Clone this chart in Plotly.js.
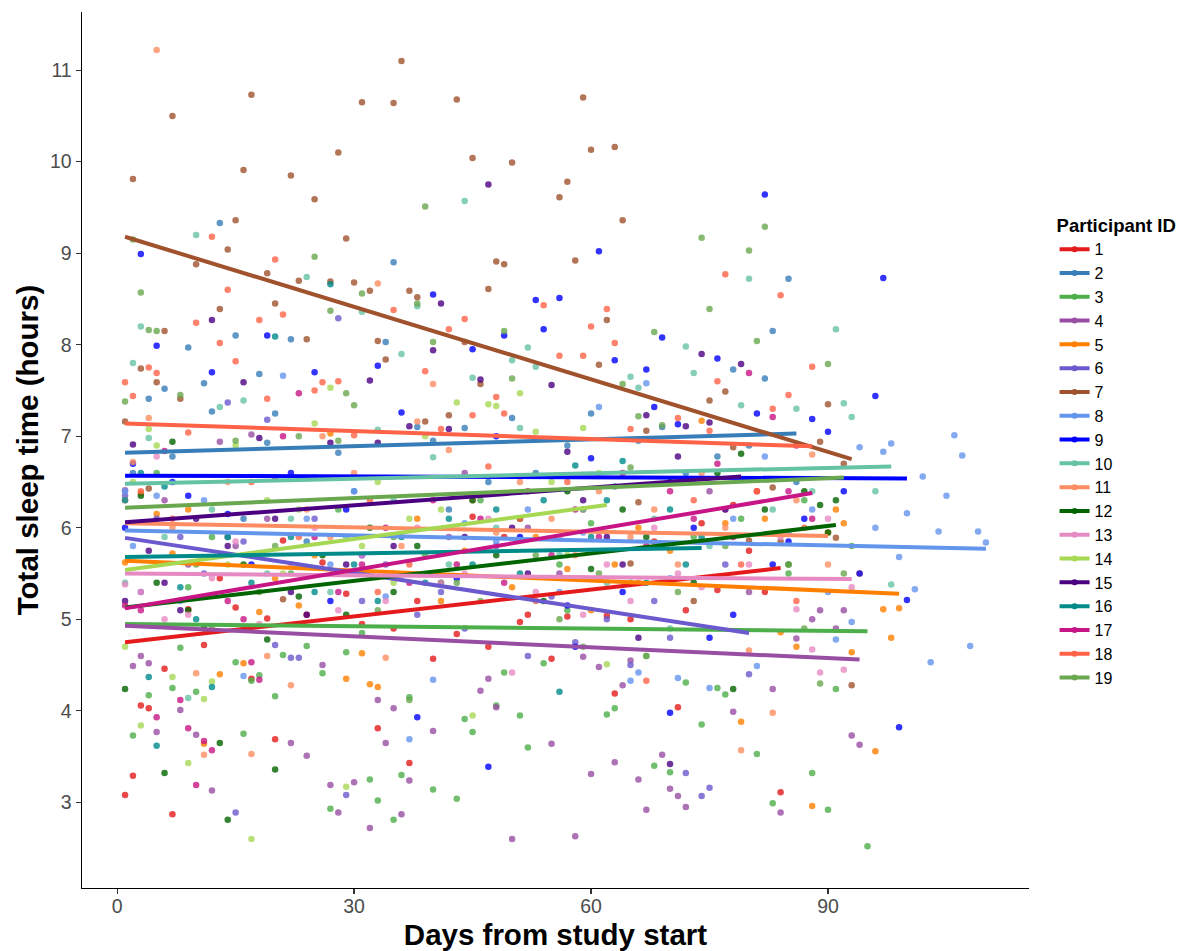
<!DOCTYPE html>
<html>
<head>
<meta charset="utf-8">
<script src="https://cdn.plot.ly/plotly-3.0.1.min.js"></script>
<style>html,body{margin:0;padding:0;background:#fff}#chart{width:1193px;height:951px}</style>
</head>
<body>
<div id="chart"></div>
<script>
const participants = ["1","2","3","4","5","6","7","8","9","10","11","12","13","14","15","16","17","18","19"];
const colors = ["#E41A1C","#377EB8","#4DAF4A","#984EA3","#FF7F00","#6A5ACD","#A0522D","#6495ED","#0000FF","#66C2A5","#FC8D62","#006400","#E78AC3","#A6D854","#4B0082","#008B8B","#C71585","#FF6347","#6AA84F"];

// regression line endpoints
const fitStartX = [1,1,1,1,1,1,1,1,1,1,1,1,1,1,1,1,1,1,1];
const fitEndX   = [84,86,95,94,99,80,93,110,100,98,90,91,93,62,79,74,88,88,92];
const fitStartY = [4.75,6.82,4.95,4.93,5.64,5.89,9.18,5.97,6.57,6.48,6.05,5.13,5.50,5.54,6.06,5.68,5.12,7.14,6.22];
const fitEndY   = [5.56,7.03,4.87,4.56,5.28,4.85,6.75,5.77,6.54,6.67,5.91,6.03,5.44,6.25,6.56,5.78,6.38,6.89,6.55];

// observations per participant (day, total sleep hours)
const p1x = [1,2,3,4,6,7,9,11,13,15,17,19,20,21,24,26,29,31,33,35,37,38,40,43,45,47,49,51,52,55,57,59,62,63,65,68,71,72,74,76,78,80,81,82,84];
const p1y = [3.08,3.29,4.06,4.03,4.46,2.87,5.11,4.72,5.45,5.13,4.35,5.01,3.69,5.86,5.05,5.62,5.28,4.95,3.81,4.9,3.43,5.2,4.57,4.84,6.12,4.7,5.9,4.97,5.05,4.57,5.03,6.2,5.04,4.19,5.0,5.85,4.04,5.1,6.05,5.32,6.25,5.75,6.4,5.3,3.11];
const p2x = [2,4,6,7,9,11,12,13,15,16,18,19,20,22,24,25,28,30,34,35,38,40,42,44,47,50,53,57,60,63,66,69,72,76,78,80,82,83,85,86];
const p2y = [6.6,7.41,7.52,6.78,7.97,7.58,7.27,9.33,8.10,6.1,7.68,6.93,7.25,8.06,5.85,6.55,6.82,6.4,8.03,8.90,7.10,6.95,6.2,7.09,6.5,7.2,6.6,6.9,7.25,6.45,6.95,7.1,6.6,6.78,7.73,6.9,7.63,8.15,8.72,6.5];
const p3x = [2,4,5,7,8,9,10,12,15,16,17,18,20,21,22,24,26,27,28,29,31,32,33,35,36,37,39,40,43,44,45,46,48,49,51,52,54,56,57,60,62,63,65,67,68,70,72,73,74,76,77,79,81,83,85,87,88,90,91,93,95];
const p3y = [3.73,4.17,6.6,4.25,4.69,5.35,4.21,5.9,4.53,3.75,4.33,4.39,4.16,4.61,5.5,4.71,4.41,2.93,6.2,4.64,4.85,3.25,3.02,2.81,3.30,4.15,5.7,3.14,3.04,3.91,3.77,6.3,4.06,4.42,3.95,3.60,4.52,5.6,5.1,6.05,3.96,4.03,5.4,4.6,3.40,3.33,4.31,5.9,3.85,4.25,4.18,6.1,3.53,2.99,5.5,6.3,3.32,2.92,4.24,5.8,2.52];
const p4x = [1,2,3,4,5,6,8,9,10,12,13,15,17,19,20,22,24,26,27,28,30,32,33,34,35,36,37,40,42,44,46,47,48,50,52,55,56,58,59,60,61,63,64,65,66,67,69,70,71,72,75,78,80,83,84,86,88,89,91,92,93,94];
const p4y = [6.41,4.49,4.60,4.52,3.77,6.3,4.01,5.6,3.74,3.13,6.94,5.8,7.02,6.1,6.55,3.65,3.51,4.50,3.19,2.89,3.22,2.72,4.12,3.65,4.03,2.87,3.24,3.78,5.9,6.6,4.22,4.35,4.04,2.60,6.0,3.64,5.5,2.63,4.59,3.31,4.48,3.44,4.28,4.55,3.25,2.92,3.52,3.15,3.07,2.95,6.4,3.99,5.3,4.24,2.89,4.79,5.0,5.1,4.90,5.1,3.73,3.63];
const p5x = [1,3,5,7,9,11,13,14,16,18,20,23,25,27,29,31,32,33,35,38,41,44,50,53,57,60,63,66,70,74,77,79,82,84,86,88,90,91,92,93,94,96,97,98,99];
const p5y = [5.62,6.38,6.15,5.72,6.2,3.64,4.4,5.9,4.52,5.08,5.45,5.15,5.7,7.03,4.35,4.63,4.29,4.26,5.5,6.1,5.2,5.75,5.35,5.9,5.55,5.1,5.6,6.0,5.75,7.17,6.05,3.88,6.1,4.86,4.70,2.96,5.95,6.2,6.05,4.64,5.5,3.56,5.11,4.80,5.12];
const p6x = [1,3,5,8,11,14,15,16,19,20,22,23,25,28,29,31,34,38,41,44,48,52,55,58,62,65,68,70,72,74,75,77,80];
const p6y = [6.35,5.3,6.1,5.9,5.5,7.37,2.89,5.85,7.18,4.72,4.58,4.58,6.1,8.29,3.08,5.2,5.6,5.05,5.3,4.9,5.8,4.6,5.25,4.75,5.0,4.5,5.2,4.8,3.32,3.07,3.16,5.6,4.4];
const p7x = [1,2,3,4,5,6,7,8,10,13,14,15,16,17,19,20,21,22,23,24,25,27,28,29,30,31,32,33,34,35,36,37,38,39,42,43,44,45,46,47,48,49,50,56,57,58,59,60,61,62,63,64,65,66,67,73,75,77,78,80,83,84,89,90,91,92,93];
const p7y = [7.16,9.81,7.74,6.43,7.59,8.15,10.5,7.41,8.88,8.39,9.04,9.36,9.91,10.73,8.78,8.45,5.22,9.85,8.70,8.06,9.59,8.69,10.10,9.16,8.68,10.65,8.59,8.04,7.84,10.64,11.10,8.59,8.52,7.16,7.23,10.68,8.03,10.04,7.57,8.61,8.91,8.88,9.99,9.61,9.78,8.92,10.70,10.13,7.78,8.27,10.16,9.36,5.61,6.28,7.06,5.20,7.39,7.49,6.88,5.86,6.44,5.85,6.94,7.35,5.89,6.70,4.28];
const p8x = [1,2,5,8,11,14,16,21,24,27,30,34,37,40,44,48,52,56,59,61,65,66,67,70,71,75,78,81,82,85,88,90,91,93,94,96,97,98,99,100,101,102,103,104,105,106,107,108,109,110];
const p8y = [6.4,5.8,6.35,5.2,6.3,5.9,4.38,7.66,6.1,5.6,6.4,5.25,3.69,4.34,6.05,5.85,6.2,5.3,5.95,7.32,4.33,4.42,7.58,5.45,4.36,4.25,6.1,4.49,6.78,5.95,6.2,5.3,4.78,4.97,6.88,6.0,6.83,6.92,5.68,6.16,5.33,6.56,4.53,5.96,6.35,7.01,6.79,4.71,5.96,5.84];
const p9x = [1,2,3,5,7,9,12,14,17,19,22,25,27,29,31,33,36,38,40,43,45,47,48,49,51,53,54,56,57,58,60,61,63,64,67,68,69,70,71,73,75,76,78,81,82,83,85,87,88,90,92,94,96,97,99,100];
const p9y = [6.0,6.7,8.99,7.99,6.5,6.35,7.70,6.15,5.6,8.10,6.6,7.70,5.2,6.2,5.7,7.77,7.26,3.93,8.55,5.45,7.95,3.39,7.0,8.10,5.9,8.49,8.17,8.51,5.15,4.7,6.76,9.02,7.83,5.3,7.73,7.32,8.08,3.98,7.13,6.0,4.8,7.85,5.05,7.25,9.64,5.6,5.85,6.1,7.19,7.05,6.4,5.5,7.44,8.73,3.82,5.21];
const p10x = [1,2,3,4,6,9,10,12,13,16,19,22,24,27,29,31,33,35,36,38,40,42,44,45,48,50,51,52,53,56,59,62,65,66,68,70,72,73,75,79,80,83,86,88,91,92,93,96,98];
const p10y = [5.4,7.80,8.20,6.98,5.9,4.14,9.20,6.2,7.32,7.39,5.5,6.1,8.74,5.3,5.9,8.36,7.07,6.3,7.90,8.42,6.77,5.6,9.57,7.64,6.0,7.83,7.09,7.97,7.76,5.7,6.2,5.4,7.65,7.53,6.1,4.9,7.98,7.69,5.8,7.34,8.72,6.2,7.30,6.4,8.17,7.36,7.21,6.40,5.38];
const p11x = [1,2,4,5,7,10,11,14,17,19,22,24,26,27,30,33,34,36,38,40,42,45,48,51,55,58,61,65,68,71,74,77,79,80,83,86,88,90];
const p11y = [6.3,6.72,7.2,11.22,6.0,4.41,3.52,6.5,3.53,4.6,4.28,6.2,7.0,5.9,6.6,8.67,4.58,5.8,7.16,7.57,6.85,6.3,5.95,6.5,6.1,5.7,6.4,5.9,6.2,5.6,6.6,6.0,3.57,4.66,3.98,6.3,6.8,5.6];
const p12x = [1,3,5,6,7,9,11,13,14,16,19,20,23,26,29,32,35,38,41,45,48,51,54,57,60,64,67,70,73,76,78,79,82,85,87,89,90,91];
const p12y = [4.24,6.35,5.4,3.32,6.94,5.1,4.9,3.65,2.81,5.6,4.78,3.36,5.25,5.7,5.05,6.0,5.3,5.8,5.4,6.3,5.7,6.1,5.2,6.4,5.55,6.2,5.9,6.5,5.4,6.6,4.24,6.81,6.2,5.6,6.4,6.25,5.95,6.3];
const p13x = [1,3,5,6,9,12,15,18,22,25,28,31,34,38,41,44,47,50,53,56,59,62,65,68,71,74,77,80,84,86,88,89,90,92,93];
const p13y = [5.38,5.3,6.78,5.0,5.05,5.45,5.85,4.95,5.6,6.0,5.1,5.7,5.2,6.0,5.4,5.5,6.1,4.42,5.3,5.9,5.05,5.6,5.2,6.0,5.5,5.35,6.2,5.6,5.9,5.11,4.67,4.42,6.1,4.45,5.35];
const p14x = [1,2,3,4,5,7,9,11,12,14,15,17,19,21,23,25,27,29,31,33,35,37,39,41,43,45,47,48,51,53,55,57,59,61,62];
const p14y = [4.7,6.5,3.84,7.08,6.9,4.37,3.43,4.13,4.32,5.6,6.9,2.60,6.3,5.5,6.2,7.14,7.53,3.17,5.8,6.5,5.4,6.1,7.0,6.2,7.37,3.95,7.35,7.33,7.47,7.05,6.5,5.7,7.09,6.6,4.51];
const p15x = [1,2,4,6,8,10,12,14,16,18,20,22,24,27,29,32,33,35,37,40,41,42,44,46,47,50,52,55,57,59,62,64,66,67,70,71,72,74,75,77,79];
const p15y = [5.2,6.91,5.75,5.4,5.1,6.1,8.27,5.8,7.59,6.98,6.1,5.3,5.05,6.93,5.6,7.61,6.93,5.8,7.11,7.94,8.45,7.08,5.9,7.62,9.75,6.0,5.5,7.56,6.83,6.3,5.9,5.6,4.8,7.23,3.42,6.78,7.11,7.90,7.15,6.2,7.79];
const p16x = [1,3,4,5,6,8,10,12,14,17,20,22,25,27,30,33,36,39,42,45,48,51,54,56,58,60,62,64,67,70,72,74];
const p16y = [6.3,6.6,4.37,3.62,6.45,5.35,5.0,4.26,5.9,5.4,8.09,5.9,5.3,8.66,5.6,5.2,5.9,5.4,6.1,5.6,6.2,5.5,6.3,4.21,6.68,5.9,6.3,6.73,5.4,6.2,5.6,5.9];
const p17x = [1,3,5,6,8,9,10,11,12,14,16,17,18,21,23,25,28,31,34,37,40,43,46,49,52,55,58,61,64,67,70,73,76,78,80,83,85,86,88];
const p17y = [5.15,5.1,3.93,6.84,4.12,3.81,3.19,3.67,3.57,5.2,5.0,4.53,4.34,7.0,7.47,5.9,5.3,5.6,6.0,5.4,6.3,5.6,6.1,5.4,6.4,5.7,6.2,5.9,6.6,5.8,6.4,6.1,6.7,5.9,7.69,7.21,6.4,6.9,6.1];
const p18x = [1,2,3,4,5,7,9,10,12,13,14,15,17,18,19,20,21,23,25,26,28,30,32,33,35,37,39,41,42,44,45,47,48,49,51,53,54,56,57,59,60,62,63,65,66,67,69,71,73,75,76,77,79,81,83,84,85,86,87,88];
const p18y = [7.59,7.44,6.4,7.75,7.69,6.1,7.04,8.24,9.18,8.02,8.6,7.82,6.5,8.27,7.41,8.93,8.33,5.9,7.50,7.59,7.60,7.01,6.3,5.3,8.38,5.6,7.71,7.08,8.17,8.28,7.23,6.67,7.43,7.25,6.1,5.2,8.43,7.88,6.5,7.88,8.20,8.39,8.02,7.08,5.4,4.33,5.8,7.20,6.3,7.06,7.60,8.77,5.6,6.4,7.30,8.54,7.45,5.2,6.0,7.76];
const p19x = [1,2,3,4,5,8,10,12,15,18,20,23,25,27,28,29,30,31,33,35,37,38,39,40,43,46,49,50,53,56,59,61,64,65,66,67,68,69,71,74,75,77,80,81,82,85,87,89,90,92];
const p19y = [7.38,9.15,8.57,8.16,8.15,7.45,5.6,4.9,6.95,5.3,5.8,7.0,8.96,8.37,6.95,7.47,7.34,8.56,5.1,5.9,4.12,8.45,9.51,8.03,5.4,5.2,8.15,7.63,5.7,5.0,4.7,5.5,7.57,6.66,7.22,4.6,8.14,7.12,5.3,9.17,8.39,5.8,9.03,8.04,9.29,5.6,4.9,4.3,7.79,5.5];

const xs = [p1x,p2x,p3x,p4x,p5x,p6x,p7x,p8x,p9x,p10x,p11x,p12x,p13x,p14x,p15x,p16x,p17x,p18x,p19x];
const ys = [p1y,p2y,p3y,p4y,p5y,p6y,p7y,p8y,p9y,p10y,p11y,p12y,p13y,p14y,p15y,p16y,p17y,p18y,p19y];

const traces = [];
participants.forEach((id, i) => {
  traces.push({
    type: 'scatter', mode: 'markers', x: xs[i], y: ys[i],
    marker: {color: colors[i], size: 6.5, opacity: 0.8},
    legendgroup: 'g' + id, showlegend: false, hoverinfo: 'x+y', name: id
  });
});
participants.forEach((id, i) => {
  traces.push({
    type: 'scatter', mode: 'lines',
    x: [fitStartX[i], fitEndX[i]], y: [fitStartY[i], fitEndY[i]],
    line: {color: colors[i], width: 4},
    legendgroup: 'g' + id, showlegend: false, name: id
  });
});
participants.forEach((id, i) => {
  traces.push({
    type: 'scatter', mode: 'lines+markers', x: [null], y: [null],
    line: {color: colors[i], width: 4},
    marker: {color: colors[i], size: 6},
    legendgroup: 'g' + id, showlegend: true, name: id
  });
});

const layout = {
  width: 1193, height: 951,
  paper_bgcolor: '#fff', plot_bgcolor: '#fff',
  font: {family: 'Liberation Sans, Arial, sans-serif', color: '#000'},
  margin: {l: 82, r: 164, t: 12, b: 63, autoexpand: false},
  showlegend: true,
  xaxis: {
    range: [-4.45, 115.45], tickvals: [0, 30, 60, 90], ticktext: ['0','30','60','90'],
    showgrid: false, zeroline: false, showline: true, linecolor: '#000', linewidth: 1.4,
    ticks: 'outside', ticklen: 5, tickcolor: '#333', tickwidth: 1.2, automargin: false,
    ticklabelstandoff: -5,
    tickfont: {size: 19.5, color: '#4D4D4D'},
    title: {text: '<b>Days from study start</b>', font: {size: 29.5, color: '#000'}, standoff: 8}
  },
  yaxis: {
    range: [2.065, 11.635], tickvals: [3,4,5,6,7,8,9,10,11],
    showgrid: false, zeroline: false, showline: true, linecolor: '#000', linewidth: 1.4,
    ticks: 'outside', ticklen: 5, tickcolor: '#333', tickwidth: 1.2, automargin: false,
    tickfont: {size: 19.5, color: '#4D4D4D'},
    title: {text: '<b>Total sleep time (hours)</b>', font: {size: 29.5, color: '#000'}, standoff: 2}
  },
  legend: {
    x: 1.027, y: 0.776, xanchor: 'left', yanchor: 'top',
    title: {text: '<b>Participant ID</b>', font: {size: 18.5}},
    font: {size: 16, color: '#000'},
    tracegroupgap: 0, itemwidth: 30, bgcolor: 'rgba(0,0,0,0)'
  }
};

Plotly.newPlot('chart', traces, layout, {displayModeBar: false, staticPlot: true});
</script>
</body>
</html>
